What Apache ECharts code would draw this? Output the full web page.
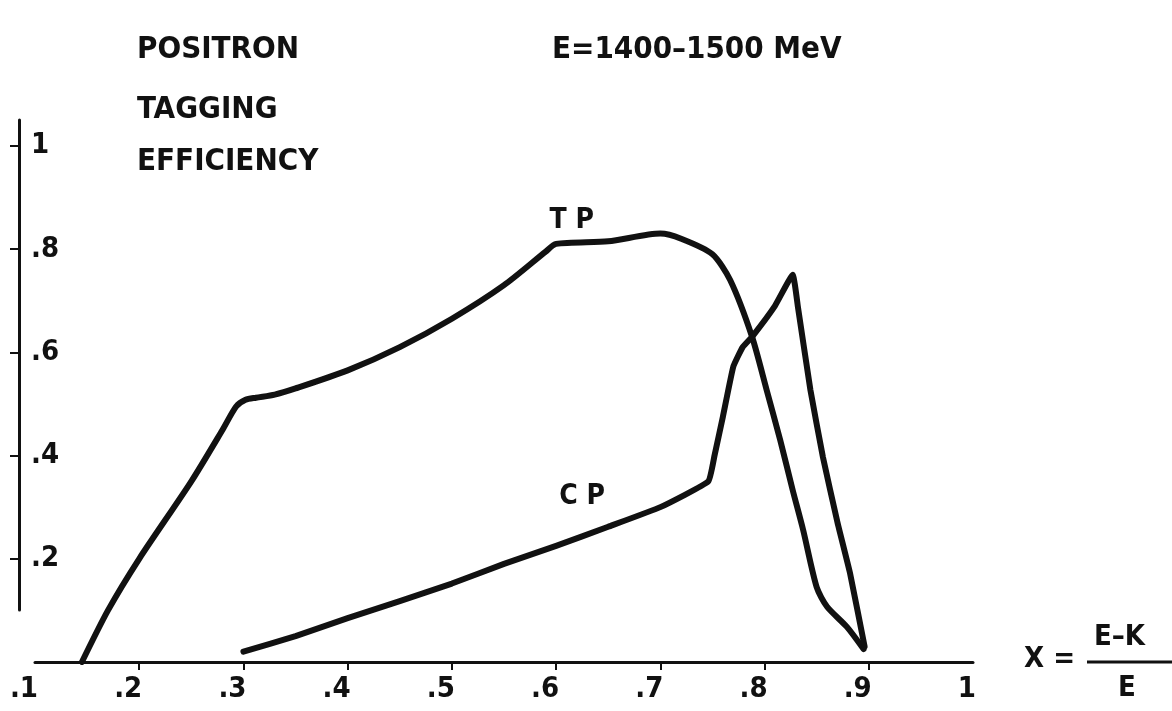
<!DOCTYPE html>
<html>
<head>
<meta charset="utf-8">
<script src="https://cdn.jsdelivr.net/npm/echarts@6/dist/echarts.min.js"></script>
<style>
html,body{margin:0;padding:0;background:#fff;}
#chart{width:1172px;height:711px;}
</style>
</head>
<body>
<div id="chart"></div>
<script>
// ---- data ----
const xTickValues = [0.1, 0.2, 0.3, 0.4, 0.5, 0.6, 0.7, 0.8, 0.9, 1.0];
const xTickLabels = ['.1', '.2', '.3', '.4', '.5', '.6', '.7', '.8', '.9', '1'];
const yTickValues = [0.2, 0.4, 0.6, 0.8, 1.0];
const yTickLabels = ['.2', '.4', '.6', '.8', '1'];

const tpX = [0.145, 0.17, 0.2, 0.25, 0.28, 0.293, 0.302, 0.312, 0.33, 0.35, 0.4, 0.45, 0.5, 0.55, 0.59, 0.6, 0.65, 0.7, 0.72, 0.75, 0.767, 0.788, 0.802, 0.815, 0.827, 0.837, 0.85, 0.86, 0.879, 0.895];
const tpY = [0.0, 0.1, 0.2, 0.35, 0.45, 0.495, 0.508, 0.512, 0.518, 0.53, 0.565, 0.61, 0.665, 0.73, 0.795, 0.81, 0.815, 0.83, 0.82, 0.79, 0.74, 0.63, 0.527, 0.43, 0.333, 0.256, 0.145, 0.107, 0.068, 0.025];

const cpX = [0.3, 0.35, 0.4, 0.45, 0.5, 0.55, 0.6, 0.65, 0.7, 0.746, 0.752, 0.76, 0.77, 0.779, 0.788, 0.81, 0.827, 0.832, 0.844, 0.856, 0.87, 0.882, 0.896];
const cpY = [0.02, 0.05, 0.085, 0.118, 0.152, 0.19, 0.225, 0.262, 0.3, 0.35, 0.40, 0.475, 0.572, 0.61, 0.63, 0.69, 0.75, 0.688, 0.527, 0.397, 0.27, 0.172, 0.03];

const curveLabelNames = ['T P', 'C P'];
const curveLabelX = [0.615, 0.625];
const curveLabelY = [0.855, 0.32];

const titleLines = ['POSITRON', 'TAGGING', 'EFFICIENCY'];
const energyText = 'E=1400–1500 MeV';
const formulaParts = {lhs: 'X =', num: 'E–K', den: 'E'};

// ---- chart ----
const INK = '#111';
const FONT = 'DejaVu Sans Condensed';

function zip(xs, ys) { return xs.map((x, i) => [x, ys[i]]); }
function lab(values, labels) {
  return v => { const i = values.findIndex(t => Math.abs(t - v) < 1e-6); return i >= 0 ? labels[i] : ''; };
}

const chart = echarts.init(document.getElementById('chart'), null, {renderer: 'canvas'});

const option = {
  animation: false,
  backgroundColor: '#fff',
  grid: [
    {left: 35, right: 199, top: 120, bottom: 49},
    {left: 19, width: 1, top: 120, bottom: 101}
  ],
  xAxis: [
    {
      type: 'value', gridIndex: 0, min: 0.1, max: 1.0, interval: 0.1,
      axisLine: {show: true, lineStyle: {color: INK, width: 3}},
      axisTick: {show: true, length: 8, lineStyle: {color: INK, width: 2}, customValues: xTickValues.slice(1, 9)},
      axisLabel: {
        show: true, customValues: xTickValues, formatter: lab(xTickValues, xTickLabels),
        color: INK, fontFamily: FONT, fontWeight: 'bold', fontSize: 29,
        margin: 13, align: 'right', padding: [0, -3, 0, 0]
      },
      splitLine: {show: false}
    },
    {type: 'value', gridIndex: 1, min: 0, max: 1, show: false}
  ],
  yAxis: [
    {type: 'value', gridIndex: 0, min: 0, max: 1.05, show: false},
    {
      type: 'value', gridIndex: 1, min: 0.1007, max: 1.05,
      axisLine: {show: true, lineStyle: {color: INK, width: 3}},
      axisTick: {show: true, length: 9, inside: false, lineStyle: {color: INK, width: 2}, customValues: yTickValues},
      axisLabel: {
        show: true, inside: true, customValues: yTickValues, formatter: lab(yTickValues, yTickLabels),
        color: INK, fontFamily: FONT, fontWeight: 'bold', fontSize: 29,
        margin: 12, verticalAlign: 'middle', padding: [0, 0, 12, 0]
      },
      splitLine: {show: false}
    }
  ],
  series: [
    {
      name: 'TP', type: 'line', xAxisIndex: 0, yAxisIndex: 0,
      data: zip(tpX, tpY), showSymbol: false, symbol: 'none', smooth: 0.25,
      lineStyle: {color: INK, width: 6, join: 'round', cap: 'round'}
    },
    {
      name: 'CP', type: 'line', xAxisIndex: 0, yAxisIndex: 0,
      data: zip(cpX, cpY), showSymbol: false, symbol: 'none', smooth: 0.12,
      lineStyle: {color: INK, width: 6, join: 'round', cap: 'round'}
    },
    {
      name: 'labels', type: 'scatter', xAxisIndex: 0, yAxisIndex: 0,
      symbol: 'circle', symbolSize: 0, itemStyle: {color: INK},
      silent: true,
      data: curveLabelNames.map((n, i) => ({name: n, value: [curveLabelX[i], curveLabelY[i]]})),
      label: {
        show: true, position: 'inside', formatter: p => p.name,
        color: INK, opacity: 1, fontFamily: FONT, fontWeight: 'bold', fontSize: 28
      }
    }
  ],
  graphic: [
    {type: 'text', left: 137, top: 34, style: {text: titleLines[0], font: 'bold 31px "' + FONT + '"', fill: INK}},
    {type: 'text', left: 137, top: 94, style: {text: titleLines[1], font: 'bold 31px "' + FONT + '"', fill: INK}},
    {type: 'text', left: 137, top: 146, style: {text: titleLines[2], font: 'bold 31px "' + FONT + '"', fill: INK}},
    {type: 'text', left: 552, top: 34, style: {text: energyText, font: 'bold 31px "' + FONT + '"', fill: INK}},
    {type: 'text', left: 1024, top: 645, style: {text: formulaParts.lhs, font: 'bold 29px "' + FONT + '"', fill: INK}},
    {type: 'text', left: 1094, top: 623, style: {text: formulaParts.num, font: 'bold 29px "' + FONT + '"', fill: INK}},
    {type: 'line', shape: {x1: 1087, y1: 662, x2: 1172, y2: 662}, style: {stroke: INK, lineWidth: 3}},
    {type: 'text', left: 1118, top: 674, style: {text: formulaParts.den, font: 'bold 29px "' + FONT + '"', fill: INK}}
  ]
};
chart.setOption(option);
</script>
</body>
</html>
